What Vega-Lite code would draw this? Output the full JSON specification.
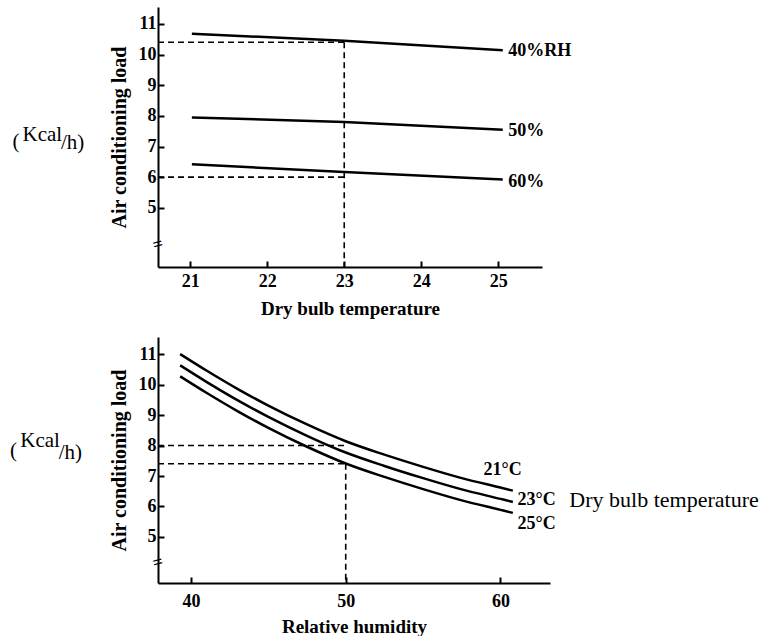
{
  "$schema": "https://vega.github.io/schema/vega-lite/v6.json",
  "padding": {"left": 9, "top": 7, "right": 0, "bottom": 0},
  "background": "white",
  "spacing": 19,
  "datasets": {
    "top_lines": [
      {"rh": "40%", "t": 21.02, "load": 10.68}, {"rh": "40%", "t": 23, "load": 10.45}, {"rh": "40%", "t": 25.06, "load": 10.14},
      {"rh": "50%", "t": 21.02, "load": 7.95}, {"rh": "50%", "t": 23, "load": 7.8}, {"rh": "50%", "t": 25.06, "load": 7.55},
      {"rh": "60%", "t": 21.02, "load": 6.42}, {"rh": "60%", "t": 23, "load": 6.17}, {"rh": "60%", "t": 25.06, "load": 5.92}
    ],
    "top_dash": [
      {"x1": 20.58, "x2": 23, "y1": 10.4, "y2": 10.4},
      {"x1": 23, "x2": 23, "y1": 10.4, "y2": 3.07},
      {"x1": 20.58, "x2": 23, "y1": 6.0, "y2": 6.0}
    ],
    "top_text": [
      {"x": 25.13, "y": 10.1, "label": "40%RH"},
      {"x": 25.13, "y": 7.5, "label": "50%"},
      {"x": 25.13, "y": 5.85, "label": "60%"}
    ],
    "top_unit": [
      {"x": 18.69, "y": 7.15, "label": "("},
      {"x": 18.82, "y": 7.37, "label": "Kcal"},
      {"x": 19.32, "y": 7.11, "label": "/h)"}
    ],
    "top_break": [{"x": 20.58, "y": 3.79, "label": "="}],
    "bot_lines": [
      {"temp": "21", "rh": 39.3, "load": 11.0}, {"temp": "21", "rh": 41, "load": 10.46}, {"temp": "21", "rh": 43, "load": 9.86}, {"temp": "21", "rh": 45, "load": 9.31}, {"temp": "21", "rh": 47.5, "load": 8.69}, {"temp": "21", "rh": 50, "load": 8.14}, {"temp": "21", "rh": 52.5, "load": 7.7}, {"temp": "21", "rh": 55, "load": 7.3}, {"temp": "21", "rh": 57.5, "load": 6.93}, {"temp": "21", "rh": 60, "load": 6.62}, {"temp": "21", "rh": 60.8, "load": 6.52},
      {"temp": "23", "rh": 39.3, "load": 10.63}, {"temp": "23", "rh": 41, "load": 10.09}, {"temp": "23", "rh": 43, "load": 9.49}, {"temp": "23", "rh": 45, "load": 8.94}, {"temp": "23", "rh": 47.5, "load": 8.32}, {"temp": "23", "rh": 50, "load": 7.77}, {"temp": "23", "rh": 52.5, "load": 7.33}, {"temp": "23", "rh": 55, "load": 6.93}, {"temp": "23", "rh": 57.5, "load": 6.56}, {"temp": "23", "rh": 60, "load": 6.25}, {"temp": "23", "rh": 60.8, "load": 6.15},
      {"temp": "25", "rh": 39.3, "load": 10.27}, {"temp": "25", "rh": 41, "load": 9.73}, {"temp": "25", "rh": 43, "load": 9.13}, {"temp": "25", "rh": 45, "load": 8.58}, {"temp": "25", "rh": 47.5, "load": 7.96}, {"temp": "25", "rh": 50, "load": 7.41}, {"temp": "25", "rh": 52.5, "load": 6.97}, {"temp": "25", "rh": 55, "load": 6.57}, {"temp": "25", "rh": 57.5, "load": 6.2}, {"temp": "25", "rh": 60, "load": 5.89}, {"temp": "25", "rh": 60.8, "load": 5.79}
    ],
    "bot_dash": [
      {"x1": 37.87, "x2": 50.1, "y1": 8.0, "y2": 8.0},
      {"x1": 37.87, "x2": 50, "y1": 7.4, "y2": 7.4},
      {"x1": 50, "x2": 50, "y1": 7.4, "y2": 3.49}
    ],
    "bot_text": [
      {"x": 58.9, "y": 7.2, "label": "21°C"},
      {"x": 61.1, "y": 6.21, "label": "23°C"},
      {"x": 61.1, "y": 5.43, "label": "25°C"}
    ],
    "bot_note": [{"x": 64.45, "y": 6.21, "label": "Dry bulb temperature"}],
    "bot_unit": [
      {"x": 28.3, "y": 7.82, "label": "("},
      {"x": 28.97, "y": 8.15, "label": "Kcal"},
      {"x": 31.45, "y": 7.75, "label": "/h)"}
    ],
    "bot_break": [{"x": 37.87, "y": 4.15, "label": "="}]
  },
  "vconcat": [
    {
      "width": 384,
      "height": 260,
      "layer": [
        {
          "data": {"name": "top_dash"},
          "mark": {"type": "rule", "strokeDash": [6, 4], "strokeWidth": 1.6, "color": "black"},
          "encoding": {
            "x": {"field": "x1", "type": "quantitative", "scale": {"domain": [20.58, 25.57], "nice": false, "zero": false},
              "axis": {"values": [21, 22, 23, 24, 25], "format": "d", "title": "Dry bulb temperature", "labelPadding": 11, "titlePadding": 9}},
            "x2": {"field": "x2"},
            "y": {"field": "y1", "type": "quantitative", "scale": {"domain": [3.07, 11.55], "nice": false, "zero": false},
              "axis": {"values": [5, 6, 7, 8, 9, 10, 11], "format": "d", "title": "Air conditioning load", "labelPadding": 8, "titlePadding": 9}},
            "y2": {"field": "y2"}
          }
        },
        {
          "data": {"name": "top_lines"},
          "mark": {"type": "line", "color": "black", "strokeWidth": 2.5},
          "encoding": {
            "x": {"field": "t", "type": "quantitative"},
            "y": {"field": "load", "type": "quantitative"},
            "detail": {"field": "rh"}
          }
        },
        {
          "data": {"name": "top_text"},
          "mark": {"type": "text", "align": "left", "baseline": "middle", "font": "Liberation Serif", "fontWeight": "bold", "fontSize": 18},
          "encoding": {
            "x": {"field": "x", "type": "quantitative"},
            "y": {"field": "y", "type": "quantitative"},
            "text": {"field": "label"}
          }
        },
        {
          "data": {"name": "top_unit"},
          "mark": {"type": "text", "align": "left", "baseline": "middle", "font": "Liberation Serif", "fontSize": 21},
          "encoding": {
            "x": {"field": "x", "type": "quantitative"},
            "y": {"field": "y", "type": "quantitative"},
            "text": {"field": "label"}
          }
        },
        {
          "data": {"name": "top_break"},
          "mark": {"type": "text", "align": "center", "baseline": "middle", "font": "Liberation Serif", "fontWeight": "bold", "fontSize": 18, "angle": -15},
          "encoding": {
            "x": {"field": "x", "type": "quantitative"},
            "y": {"field": "y", "type": "quantitative"},
            "text": {"field": "label"}
          }
        }
      ]
    },
    {
      "width": 392,
      "height": 246,
      "layer": [
        {
          "data": {"name": "bot_dash"},
          "mark": {"type": "rule", "strokeDash": [6, 4], "strokeWidth": 1.6, "color": "black"},
          "encoding": {
            "x": {"field": "x1", "type": "quantitative", "scale": {"domain": [37.87, 63.2], "nice": false, "zero": false},
              "axis": {"values": [40, 50, 60], "format": "d", "title": "Relative humidity", "labelPadding": 15, "titlePadding": 7}},
            "x2": {"field": "x2"},
            "y": {"field": "y1", "type": "quantitative", "scale": {"domain": [3.49, 11.56], "nice": false, "zero": false},
              "axis": {"values": [5, 6, 7, 8, 9, 10, 11], "format": "d", "title": "Air conditioning load", "labelPadding": 8, "titlePadding": 9}},
            "y2": {"field": "y2"}
          }
        },
        {
          "data": {"name": "bot_lines"},
          "mark": {"type": "line", "color": "black", "strokeWidth": 2.5, "interpolate": "monotone"},
          "encoding": {
            "x": {"field": "rh", "type": "quantitative"},
            "y": {"field": "load", "type": "quantitative"},
            "detail": {"field": "temp"}
          }
        },
        {
          "data": {"name": "bot_text"},
          "mark": {"type": "text", "align": "left", "baseline": "middle", "font": "Liberation Serif", "fontWeight": "bold", "fontSize": 18},
          "encoding": {
            "x": {"field": "x", "type": "quantitative"},
            "y": {"field": "y", "type": "quantitative"},
            "text": {"field": "label"}
          }
        },
        {
          "data": {"name": "bot_note"},
          "mark": {"type": "text", "align": "left", "baseline": "middle", "font": "Liberation Serif", "fontSize": 22},
          "encoding": {
            "x": {"field": "x", "type": "quantitative"},
            "y": {"field": "y", "type": "quantitative"},
            "text": {"field": "label"}
          }
        },
        {
          "data": {"name": "bot_unit"},
          "mark": {"type": "text", "align": "left", "baseline": "middle", "font": "Liberation Serif", "fontSize": 21},
          "encoding": {
            "x": {"field": "x", "type": "quantitative"},
            "y": {"field": "y", "type": "quantitative"},
            "text": {"field": "label"}
          }
        },
        {
          "data": {"name": "bot_break"},
          "mark": {"type": "text", "align": "center", "baseline": "middle", "font": "Liberation Serif", "fontWeight": "bold", "fontSize": 18, "angle": -15},
          "encoding": {
            "x": {"field": "x", "type": "quantitative"},
            "y": {"field": "y", "type": "quantitative"},
            "text": {"field": "label"}
          }
        }
      ]
    }
  ],
  "config": {
    "view": {"stroke": null},
    "axis": {
      "grid": false,
      "domainColor": "black",
      "domainWidth": 2,
      "tickColor": "black",
      "tickWidth": 2,
      "tickSize": -6,
      "labelColor": "black",
      "labelFont": "Liberation Serif",
      "labelFontWeight": "bold",
      "labelFontSize": 18,
      "titleColor": "black",
      "titleFont": "Liberation Serif",
      "titleFontWeight": "bold",
      "titleFontSize": 19
    },
    "axisY": {"titleFontSize": 20}
  }
}
